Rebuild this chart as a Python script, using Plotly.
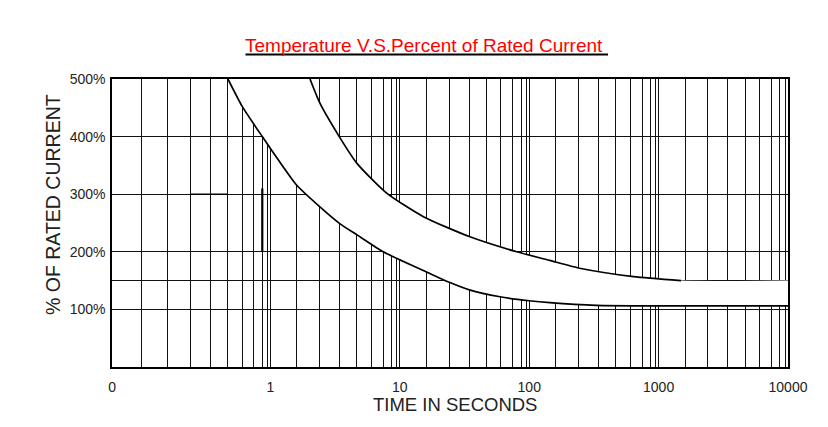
import plotly.graph_objects as go

# ---------------- data ----------------
# upper boundary of the band (time in seconds, % of rated current)
upper_t = [2.02, 2.41, 3.40, 4.64, 7.9, 15.2, 34.8, 80, 144, 251, 640, 1490]
upper_pct = [500, 458, 400, 354, 302, 261, 226, 200, 185, 171, 157, 150]
# the band continues flat at the hold level to the end of the axis
band_end_t = 10000
band_end_pct = 150

# lower boundary of the band
lower_t = [0.469, 0.606, 0.864, 1.18, 1.59, 2.41, 3.43, 4.69, 7.44, 10, 16.1,
           24.1, 34.4, 59.4, 100, 144, 331, 10000]
lower_pct = [500, 452, 400, 356, 316, 278, 249, 229, 200, 186, 165,
             147, 134, 122, 115, 111.6, 107, 106]

x_tick_vals = [1, 10, 100, 1000, 10000]
x_tick_text = ["1", "10", "100", "1000", "10000"]
y_tick_vals = [100, 150, 200, 300, 400, 500]
y_tick_text = ["100%", "", "200%", "300%", "400%", "500%"]

# grid subdivisions used by the chart in every decade
grid_mult = [1.0, 1.6, 2.4, 3.43, 4.66, 6.04, 7.44, 8.66, 9.5]
grid_decades = [0.1, 1, 10, 100, 1000]

# ---------------- layout geometry ----------------
# page body has an 8px margin; geometry below is in window pixels
OFF = 8
W, H = 828 - OFF, 427 - OFF
PL, PR, PT, PB = 112, 788, 79, 367          # plot box in window pixels
ML, MR, MT, MB = PL - OFF, W - (PR - OFF), PT - OFF, H - (PB - OFF)
PW, PH = PR - PL, PB - PT
X_LOG_MIN = -1.2251


def px_x(px):
    return (px - PL) / PW


def px_y(py):
    return (PB - py) / PH


grid_x = [m * d for d in grid_decades for m in grid_mult if m * d not in x_tick_vals]

FONT = "Liberation Sans, Arial, sans-serif"
GRID = "#111111"

fig = go.Figure()

# invisible upper boundary (extended) used for the white band fill
fig.add_trace(go.Scatter(
    x=upper_t + [band_end_t], y=upper_pct + [band_end_pct],
    mode="lines", line=dict(width=0, color="rgba(0,0,0,0)", shape="spline", smoothing=0.6),
    hoverinfo="skip", showlegend=False))
# lower boundary, filled to the upper boundary in white
fig.add_trace(go.Scatter(
    x=lower_t, y=lower_pct, mode="lines", fill="tonexty", fillcolor="white",
    line=dict(width=1.7, color="black", shape="spline", smoothing=0.6),
    showlegend=False))
# visible upper curve
fig.add_trace(go.Scatter(
    x=upper_t, y=upper_pct, mode="lines",
    line=dict(width=1.7, color="black", shape="spline", smoothing=0.6),
    showlegend=False))

fig.update_layout(
    width=W, height=H, autosize=False,
    margin=dict(l=ML, r=MR, t=MT, b=MB),
    paper_bgcolor="white", plot_bgcolor="white",
    showlegend=False,
    font=dict(family=FONT, color="#222"),
)

fig.update_xaxes(
    type="log", range=[X_LOG_MIN, 4],
    tickvals=[10 ** (X_LOG_MIN + 0.001)] + x_tick_vals,
    ticktext=["0"] + x_tick_text,
    showgrid=True, gridcolor=GRID, gridwidth=1,
    minor=dict(tickvals=grid_x, showgrid=True, gridcolor=GRID, gridwidth=1, ticks=""),
    showline=True, linecolor="black", linewidth=1.5, mirror=True,
    zeroline=False, ticks="", ticklabelstandoff=6,
    tickfont=dict(size=14, family=FONT, color="#222"),
)
fig.update_yaxes(
    range=[0, 500], tickvals=y_tick_vals, ticktext=y_tick_text,
    showgrid=True, gridcolor=GRID, gridwidth=1.4,
    showline=True, linecolor="black", linewidth=1.5, mirror=True,
    zeroline=False, ticks="", ticklabelstandoff=2,
    tickfont=dict(size=14, family=FONT, color="#222"),
)

# scan marks: thicker stroke pieces in the grid
fig.add_shape(type="line", xref="x", yref="y", x0=0.864, x1=0.864, y0=200, y1=310,
              line=dict(color="black", width=2.2))
fig.add_shape(type="line", xref="x", yref="y", x0=0.239, x1=0.469, y0=300, y1=300,
              line=dict(color="black", width=1.6))

# title (red) with black underline
fig.add_annotation(
    text="Temperature V.S.Percent of Rated Current",
    xref="paper", yref="paper", x=px_x(424), y=px_y(45.5),
    xanchor="center", yanchor="middle", showarrow=False,
    font=dict(size=19, color="#ff0000", family=FONT))
fig.add_shape(type="line", xref="paper", yref="paper",
              x0=px_x(245.5), x1=px_x(608), y0=px_y(54.5), y1=px_y(54.5),
              line=dict(color="black", width=2))

# axis titles
fig.add_annotation(
    text="% OF RATED CURRENT", textangle=-90,
    xref="paper", yref="paper", x=px_x(53), y=px_y(205),
    xanchor="center", yanchor="middle", showarrow=False,
    font=dict(size=19.5, color="#222", family=FONT))
fig.add_annotation(
    text="TIME IN SECONDS",
    xref="paper", yref="paper", x=px_x(455), y=px_y(404),
    xanchor="center", yanchor="middle", showarrow=False,
    font=dict(size=18.5, color="#222", family=FONT))

# outer frame of the original picture (top and left edges)
fig.add_shape(type="line", xref="paper", yref="paper",
              x0=px_x(4), x1=px_x(840), y0=px_y(6), y1=px_y(6),
              line=dict(color="#111", width=2))
fig.add_shape(type="line", xref="paper", yref="paper",
              x0=px_x(4), x1=px_x(4), y0=px_y(6), y1=px_y(440),
              line=dict(color="#111", width=2))

fig.write_html("out.html")
